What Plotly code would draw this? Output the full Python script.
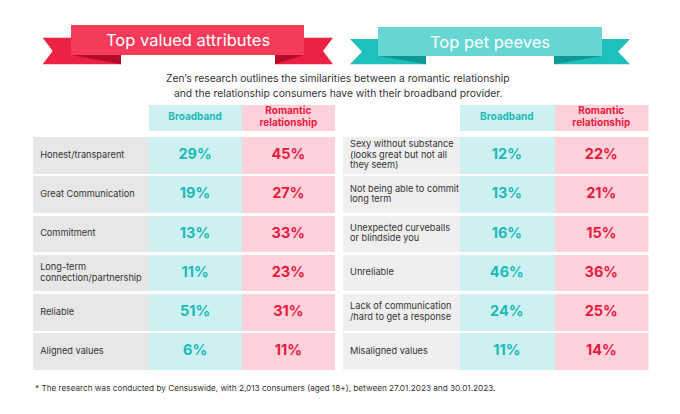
import plotly.graph_objects as go

W, H = 680, 414
OFFSET = 8  # page body margin: shift everything so it lands where the reference has it

# ---------------- data ----------------
ribbon_titles = ["Top valued attributes", "Top pet peeves"]
subtitle_lines = [
    "Zen’s research outlines the similarities between a romantic relationship",
    "and the relationship consumers have with their broadband provider.",
]
column_headers = ["Broadband", "Romantic<br>relationship"]

attr_labels = ["Honest/transparent", "Great Communication", "Commitment",
               "Long-term<br>connection/partnership", "Reliable", "Aligned values"]
attr_broadband = [29, 19, 13, 11, 51, 6]
attr_romantic = [45, 27, 33, 23, 31, 11]

peeve_labels = ["Sexy without substance<br>(looks great but not all<br>they seem)",
                "Not being able to commit<br>long term",
                "Unexpected curveballs<br>or blindside you",
                "Unreliable",
                "Lack of communication<br>/hard to get a response",
                "Misaligned values"]
peeve_broadband = [12, 13, 16, 46, 24, 11]
peeve_romantic = [22, 21, 15, 36, 25, 14]

footnote = ("* The research was conducted by Censuswide, with 2,013 consumers (aged 18+), "
            "between 27.01.2023 and 30.01.2023.")

# ---------------- style ----------------
FONT = "Inter"
TXT = "#333333"
TEAL_TXT = "#1bbab6"
RED_TXT = "#e8183f"
CYAN_BG = "#cdf1f2"
PINK_BG = "#ffd1da"
GRAY_BG = ["#e7e7e7", "#efefef"]

LABEL_W = 1.24      # label column width in column units
COL_W = 1.0
ROW_T = 0.935       # row bar thickness (row units)
HDR_Y = 0.04
HDR_T = 0.66
LINE_GAP = 0.27     # line spacing for split labels, row units
HDR_GAP = 0.31      # line spacing for header text


def px_x(v):
    return (v - OFFSET) / W


def px_y(v):
    return 1 - (v - OFFSET) / H


fig = go.Figure()

tables = [
    dict(labels=attr_labels, bb=attr_broadband, rom=attr_romantic,
         xdom=[32.7, 335.0], gray=GRAY_BG[0]),
    dict(labels=peeve_labels, bb=peeve_broadband, rom=peeve_romantic,
         xdom=[342.5, 648.5], gray=GRAY_BG[1]),
]


def split_text(texts, ys, gap):
    out_t, out_y = [], []
    for t, y in zip(texts, ys):
        lines = t.split("<br>")
        n = len(lines)
        for j, ln in enumerate(lines):
            out_t.append(ln)
            out_y.append(y + (j - (n - 1) / 2) * gap)
    return out_t, out_y


for i, tb in enumerate(tables):
    xa = "x" if i == 0 else "x2"
    ya = "y" if i == 0 else "y2"
    n = len(tb["labels"])
    rows = list(range(1, n + 1))

    # label column cells
    fig.add_trace(go.Bar(orientation="h", y=rows, x=[LABEL_W] * n, base=0,
                         width=ROW_T, marker=dict(color=tb["gray"], line=dict(width=0)),
                         xaxis=xa, yaxis=ya, hoverinfo="skip"))
    # broadband & romantic columns (header + rows)
    for c, col in enumerate([CYAN_BG, PINK_BG]):
        fig.add_trace(go.Bar(orientation="h", y=[HDR_Y] + rows, x=[COL_W] * (n + 1),
                             base=LABEL_W + c * COL_W,
                             width=[HDR_T] + [ROW_T] * n,
                             marker=dict(color=col, line=dict(width=0)),
                             xaxis=xa, yaxis=ya, hoverinfo="skip"))

    # row labels
    lt, ly = split_text(tb["labels"], rows, LINE_GAP)
    fig.add_trace(go.Scatter(x=[0.08] * len(lt), y=ly, text=lt, mode="text",
                             textposition="middle right",
                             textfont=dict(family=FONT, size=9.2, color=TXT),
                             xaxis=xa, yaxis=ya, hoverinfo="skip"))
    # percentages
    for c, (vals, color) in enumerate([(tb["bb"], TEAL_TXT), (tb["rom"], RED_TXT)]):
        fig.add_trace(go.Scatter(x=[LABEL_W + (c + 0.5) * COL_W] * n, y=rows,
                                 text=[f"{v}%" for v in vals], mode="text",
                                 textposition="middle center",
                                 textfont=dict(family=FONT, size=14.5, color=color,
                                               weight="bold"),
                                 xaxis=xa, yaxis=ya, hoverinfo="skip"))
    # column headers
    for c, (h, color) in enumerate(zip(column_headers, [TEAL_TXT, RED_TXT])):
        ht, hy = split_text([h], [HDR_Y], HDR_GAP)
        fig.add_trace(go.Scatter(x=[LABEL_W + (c + 0.5) * COL_W] * len(ht), y=hy,
                                 text=ht, mode="text", textposition="middle center",
                                 textfont=dict(family=FONT, size=10, color=color,
                                               weight="bold"),
                                 xaxis=xa, yaxis=ya, hoverinfo="skip"))

# axes geometry
y_top_px, y_bot_px = 105.0, 370.0
row1_px, pitch = 155.5, 39.2
y_range = [1 + (y_bot_px - row1_px) / pitch, 1 - (row1_px - y_top_px) / pitch]
ydom = [px_y(y_bot_px), px_y(y_top_px)]
layout_axes = {}
for i, tb in enumerate(tables):
    sx = "" if i == 0 else "2"
    layout_axes[f"xaxis{sx}"] = dict(domain=[px_x(tb["xdom"][0]), px_x(tb["xdom"][1])],
                                     range=[0, LABEL_W + 2 * COL_W], visible=False,
                                     fixedrange=True, anchor=f"y{sx}")
    layout_axes[f"yaxis{sx}"] = dict(domain=ydom, range=y_range, visible=False,
                                     fixedrange=True, anchor=f"x{sx}")

# ribbons (decoration)
shapes = []


def poly(pts, color):
    d = "M " + " L ".join(f"{px_x(x):.5f},{px_y(y):.5f}" for x, y in pts) + " Z"
    shapes.append(dict(type="path", path=d, xref="paper", yref="paper",
                       fillcolor=color, line=dict(width=0), layer="above"))


ribbons = [
    dict(main=(71, 25, 304, 55), tail_top=37.7, tail_bot=64.3, outer=(42.7, 333),
         notch=10, inner=(121, 275), cols=("#f43b5a", "#ec2244", "#b50c2b")),
    dict(main=(378, 27, 602, 56), tail_top=39, tail_bot=64.3, outer=(350, 630),
         notch=12, inner=(426, 554), cols=("#66d6d3", "#1fbfbb", "#0e9895")),
]
for rb in ribbons:
    x0, y0, x1, y1 = rb["main"]
    tt, tbm = rb["tail_top"], rb["tail_bot"]
    ol, orr = rb["outer"]
    il, ir = rb["inner"]
    mid = (tt + tbm) / 2
    cm, ct, cf = rb["cols"]
    poly([(ol, tt), (il, tt), (il, tbm), (ol, tbm), (ol + rb["notch"], mid)], ct)
    poly([(orr, tt), (ir, tt), (ir, tbm), (orr, tbm), (orr - rb["notch"], mid)], ct)
    poly([(x0, y1), (il, y1), (il, tbm)], cf)
    poly([(x1, y1), (ir, y1), (ir, tbm)], cf)
    poly([(x0, y0), (x1, y0), (x1, y1), (x0, y1)], cm)

annotations = []
for rb, title in zip(ribbons, ribbon_titles):
    x0, y0, x1, y1 = rb["main"]
    annotations.append(dict(x=px_x((x0 + x1) / 2), y=px_y((y0 + y1) / 2), xref="paper",
                            yref="paper", text=title, showarrow=False,
                            font=dict(family=FONT, size=16.5, color="white"),
                            xanchor="center", yanchor="middle"))
for j, ln in enumerate(subtitle_lines):
    annotations.append(dict(x=px_x(338), y=px_y(78 + j * 15), xref="paper", yref="paper",
                            text=ln, showarrow=False,
                            font=dict(family=FONT, size=10.3, color=TXT),
                            xanchor="center", yanchor="middle"))
annotations.append(dict(x=px_x(33), y=px_y(388), xref="paper", yref="paper",
                        text=footnote, showarrow=False,
                        font=dict(family=FONT, size=8.2, color=TXT),
                        xanchor="left", yanchor="middle"))

fig.update_layout(width=W, height=H, margin=dict(l=0, r=0, t=0, b=0),
                  paper_bgcolor="white", plot_bgcolor="rgba(0,0,0,0)",
                  showlegend=False, barmode="overlay", bargap=0,
                  shapes=shapes, annotations=annotations, **layout_axes)

fig.write_html("out.html")
